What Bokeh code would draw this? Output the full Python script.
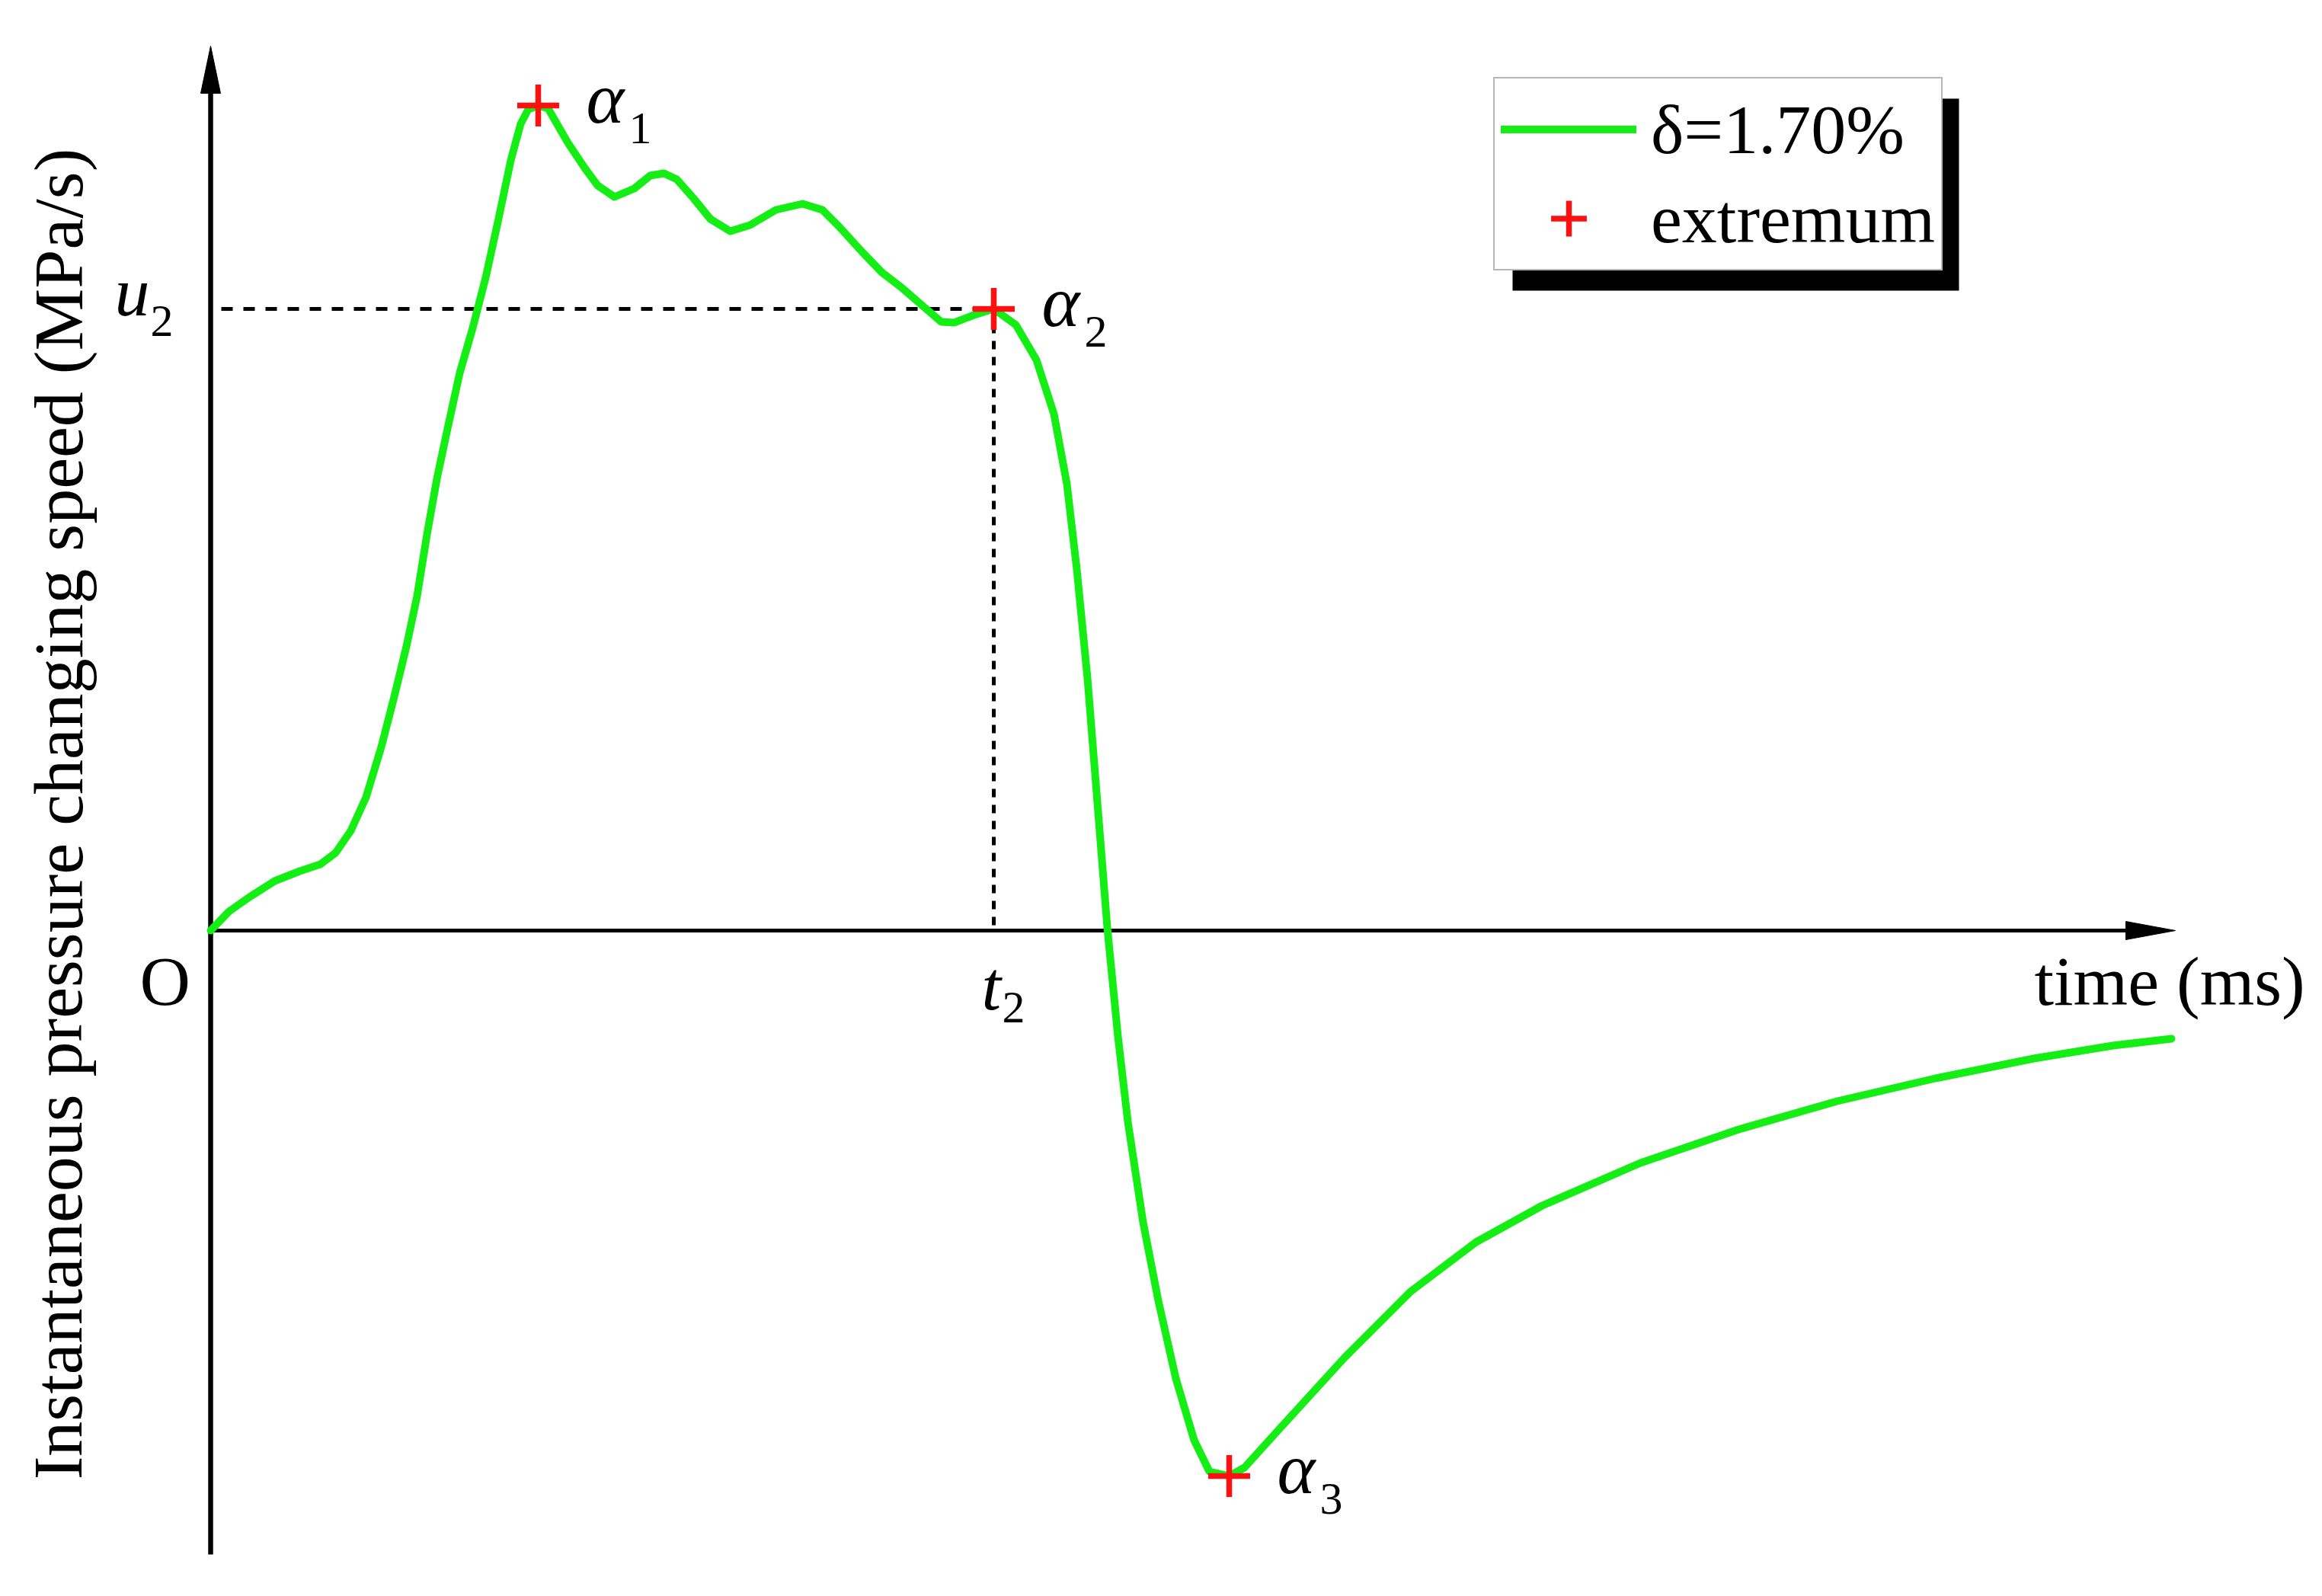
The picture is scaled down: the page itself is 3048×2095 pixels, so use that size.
from bokeh.plotting import figure
from bokeh.models import Range1d, Label, Legend, LegendItem, BoxAnnotation
from bokeh.embed import file_html
from bokeh.resources import INLINE

# ---------------- data (arbitrary units) ----------------
time = [0.00, 0.24, 0.51, 0.84, 1.17, 1.44, 1.64, 1.84, 2.04, 2.24, 2.41, 2.57, 2.71,
        2.84, 2.97, 3.11, 3.27, 3.44, 3.61, 3.77, 3.94, 4.07, 4.17, 4.30,
        4.43, 4.69, 4.91, 5.08, 5.30, 5.56, 5.77, 5.95, 6.12, 6.34, 6.56, 6.82, 7.08,
        7.42, 7.77, 8.03, 8.25, 8.55, 8.81, 9.07, 9.37, 9.59, 9.76, 10.02, 10.28,
        10.57, 10.84, 11.07, 11.24, 11.37, 11.51, 11.64, 11.77, 11.91, 12.04, 12.24,
        12.44, 12.67, 12.91, 13.11, 13.37, 13.57, 14.04, 14.89, 15.75, 16.61, 17.48,
        18.77, 20.06, 21.35, 22.64, 23.93, 24.97, 25.74]
speed = [0.00, 0.25, 0.44, 0.65, 0.78, 0.87, 1.02, 1.31, 1.75, 2.41, 3.07, 3.73, 4.39,
         5.20, 5.93, 6.59, 7.32, 7.91, 8.57, 9.30, 10.11, 10.59, 10.78, 10.83,
         10.79, 10.34, 10.01, 9.78, 9.63, 9.74, 9.91, 9.94, 9.86, 9.61, 9.34, 9.18, 9.26,
         9.46, 9.54, 9.46, 9.24, 8.91, 8.64, 8.44, 8.18, 7.99, 7.98, 8.08, 8.16,
         7.95, 7.49, 6.78, 5.86, 4.74, 3.31, 1.68, 0.04, -1.39, -2.51, -3.83,
         -4.86, -5.88, -6.69, -7.10, -7.16, -7.05, -6.53, -5.60, -4.74, -4.09, -3.61,
         -3.05, -2.61, -2.24, -1.94, -1.68, -1.51, -1.42]
ext_time = [4.30, 10.28, 13.37]
ext_speed = [10.83, 8.16, -7.16]
ext_subs = ["1", "2", "3"]
t2 = 10.28
u2 = 8.16
series_label = "δ=1.70%"
marker_label = "extremum"
x_title = "time (ms)"
y_title = "Instantaneous pressure changing speed (MPa/s)"

# ---------------- layout ----------------
W, H = 3032, 2079
S = 100.0           # px per unit
OX, OY = 276, 1221  # origin in page pixels


def dx(px):
    return (px - OX) / S


def dy(py):
    return (OY - py) / S


BF = 0.33      # baseline correction for main-size text (units)
BF_SUB = 0.19  # baseline correction for subscripts

GREEN = "#14ee14"
RED = "#ff1010"
FONT = "Liberation Serif"
FS = "92px"
SUB = "60px"

p = figure(width=W, height=H, output_backend="svg", toolbar_location=None,
           x_range=Range1d(dx(0), dx(W)), y_range=Range1d(dy(H), dy(0)),
           x_axis_location=None, y_axis_location=None,
           min_border=0, min_border_left=0, min_border_right=0,
           min_border_top=0, min_border_bottom=0)
p.outline_line_color = None
p.background_fill_color = "white"
p.border_fill_color = "white"
p.grid.visible = False

# ---------------- hand-drawn axes with arrows ----------------
x_end = dx(2855)
p.line([0, x_end - 0.6], [0, 0], line_color="black", line_width=5)
p.patch([x_end, x_end - 0.65, x_end - 0.65], [0, 0.12, -0.12],
        fill_color="black", line_color="black", line_width=1)
y_top = dy(60)
y_bot = dy(2040)
p.line([0, 0], [y_bot, y_top - 0.55], line_color="black", line_width=6.5)
p.patch([0, -0.13, 0.13], [y_top, y_top - 0.62, y_top - 0.62],
        fill_color="black", line_color="black", line_width=1)

# ---------------- dashed guides ----------------
p.line([0.14, t2], [u2, u2], line_color="black", line_width=5, line_dash="15 14")
p.line([t2, t2], [u2, 0], line_color="black", line_width=5, line_dash="11 10")

# ---------------- data ----------------
line_r = p.line(time, speed, line_color=GREEN, line_width=10, line_join="round", line_cap="round")
ext_r = p.scatter(ext_time, ext_speed, marker="cross", size=55, line_color=RED, line_width=7.5)


# ---------------- labels ----------------
def lab(x, y, text, size=FS, italic=False, align="left", angle=0.0):
    p.add_layout(Label(x=x, y=y, text=text, text_font=FONT, text_font_size=size,
                       text_font_style="italic" if italic else "normal",
                       text_color="black", text_align=align, text_baseline="alphabetic",
                       angle=angle))


for xt, yv, sub in zip(ext_time, ext_speed, ext_subs):
    lab(xt + 0.63, yv - 0.23 + BF, "α", size="95px", italic=True)
    lab(xt + 1.19, yv - 0.49 + BF_SUB, sub, size=SUB)

lab(dx(150), u2 - 0.10 + BF, "u", italic=True)
lab(dx(197), u2 - 0.35 + BF_SUB, "2", size=SUB)
lab(t2 - 0.16, dy(1326) + BF, "t", italic=True)
lab(t2 + 0.11, dy(1341) + BF_SUB, "2", size=SUB)
lab(dx(183), dy(1320) + BF, "O")
lab(dx(2670), dy(1320) + BF, x_title)
lab(dx(107 - 31), dy(1068), y_title, align="center", angle=1.5707963)

# ---------------- legend with shadow ----------------
p.add_layout(BoxAnnotation(left=dx(1985), right=dx(2571), top=dy(129), bottom=dy(381),
                           fill_color="black", fill_alpha=1.0, line_color=None,
                           level="underlay"))
legend = Legend(items=[LegendItem(label=series_label, renderers=[line_r]),
                       LegendItem(label=marker_label, renderers=[ext_r])],
                location=(1960, H - 355), margin=0, padding=8, spacing=0,
                glyph_width=178, glyph_height=117, label_height=117, label_standoff=19,
                label_text_font=FONT, label_text_font_size=FS, label_text_color="black",
                border_line_color="#707070", border_line_width=2,
                background_fill_color="white", background_fill_alpha=1.0)
p.add_layout(legend)

open("out.html", "w").write(file_html(p, INLINE))
